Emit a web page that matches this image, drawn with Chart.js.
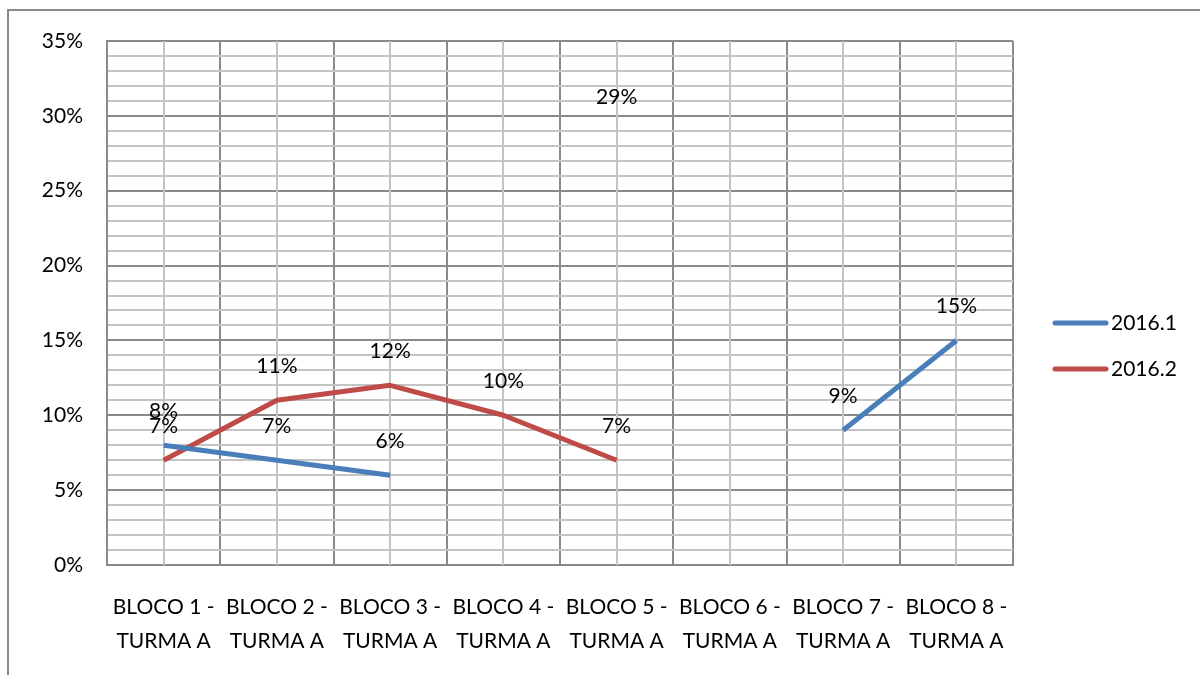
<!DOCTYPE html>
<html>
<head>
<meta charset="utf-8">
<script src="https://cdn.jsdelivr.net/npm/chart.js@4/dist/chart.umd.min.js"></script>
<style>
  html, body { margin: 0; padding: 0; background: #fff; }
  #wrap { position: absolute; left: 0; top: 0; width: 1200px; height: 675px; }
</style>
</head>
<body>
<div id="wrap"><canvas id="c" width="1200" height="675"></canvas></div>
<script>
// Categories (two-line labels) and series values, in percent
const categories = [
  ['BLOCO 1 -', 'TURMA A'],
  ['BLOCO 2 -', 'TURMA A'],
  ['BLOCO 3 -', 'TURMA A'],
  ['BLOCO 4 -', 'TURMA A'],
  ['BLOCO 5 -', 'TURMA A'],
  ['BLOCO 6 -', 'TURMA A'],
  ['BLOCO 7 -', 'TURMA A'],
  ['BLOCO 8 -', 'TURMA A']
];
const series2016_1 = [8, 7, 6, null, 29, null, 9, 15];
const series2016_2 = [7, 11, 12, 10, 7, null, null, null];
const seriesNames = ['2016.1', '2016.2'];
const seriesColors = ['#4a7ebb', '#be4b48'];
const yMin = 0, yMax = 35, yStep = 1, yLabelEvery = 5;

const FONT = 'Lato, "Open Sans", "Liberation Sans", sans-serif';
const FONT_SIZE = 21;
const MAJOR = '#8a8a8a';
const MINOR = '#c4c4c4';

// Outer frame of the chart object
const framePlugin = {
  id: 'frame',
  afterDraw(chart) {
    const ctx = chart.ctx;
    ctx.save();
    ctx.strokeStyle = '#8a8a8a';
    ctx.lineWidth = 2;
    ctx.beginPath();
    ctx.moveTo(8, 675);
    ctx.lineTo(8, 10);
    ctx.lineTo(1200, 10);
    ctx.stroke();
    ctx.restore();
  }
};

// Light vertical lines through each category centre
const centerLinesPlugin = {
  id: 'centerLines',
  beforeDatasetsDraw(chart) {
    const { ctx, chartArea, scales } = chart;
    ctx.save();
    ctx.strokeStyle = MINOR;
    ctx.lineWidth = 2;
    categories.forEach((_, i) => {
      const x = Math.round(scales.x.getPixelForValue(i));
      ctx.beginPath();
      ctx.moveTo(x, chartArea.top);
      ctx.lineTo(x, chartArea.bottom);
      ctx.stroke();
    });
    ctx.restore();
  }
};

// Value labels above each point
const valueLabelsPlugin = {
  id: 'valueLabels',
  afterDatasetsDraw(chart) {
    const ctx = chart.ctx;
    ctx.save();
    ctx.font = FONT_SIZE + 'px ' + FONT;
    ctx.fillStyle = '#000';
    ctx.textAlign = 'center';
    ctx.textBaseline = 'middle';
    chart.data.datasets.forEach((ds, di) => {
      const meta = chart.getDatasetMeta(di);
      ds.data.forEach((v, i) => {
        if (v === null) return;
        const el = meta.data[i];
        ctx.fillText(v + '%', el.x, el.y - 34);
      });
    });
    ctx.restore();
  }
};

// Legend on the right side
const sideLegendPlugin = {
  id: 'sideLegend',
  afterDraw(chart) {
    const ctx = chart.ctx;
    ctx.save();
    ctx.font = FONT_SIZE + 'px ' + FONT;
    ctx.textBaseline = 'middle';
    ctx.textAlign = 'left';
    chart.data.datasets.forEach((ds, i) => {
      const y = 323 + i * 46;
      ctx.strokeStyle = ds.borderColor;
      ctx.lineWidth = 5;
      ctx.lineCap = 'round';
      ctx.beginPath();
      ctx.moveTo(1055, y);
      ctx.lineTo(1106, y);
      ctx.stroke();
      ctx.fillStyle = '#000';
      ctx.fillText(ds.label, 1111, y);
    });
    ctx.restore();
  }
};

new Chart(document.getElementById('c'), {
  type: 'line',
  data: {
    labels: categories,
    datasets: [
      { label: seriesNames[0], data: series2016_1, borderColor: seriesColors[0], backgroundColor: seriesColors[0] },
      { label: seriesNames[1], data: series2016_2, borderColor: seriesColors[1], backgroundColor: seriesColors[1] }
    ].map(d => Object.assign(d, {
      borderWidth: 5, pointRadius: 0, pointHoverRadius: 0, tension: 0,
      spanGaps: false, borderCapStyle: 'butt', borderJoinStyle: 'round', fill: false
    }))
  },
  options: {
    responsive: false,
    animation: false,
    devicePixelRatio: 1,
    layout: { padding: { left: 0, right: 187, top: 41, bottom: 0 } },
    plugins: { legend: { display: false }, tooltip: { enabled: false } },
    scales: {
      x: {
        type: 'category',
        offset: true,
        grid: { offset: true, color: MAJOR, lineWidth: 2, drawTicks: false },
        border: { color: MAJOR, width: 2 },
        ticks: {
          color: '#000', maxRotation: 0, autoSkip: false, padding: 25,
          font: { family: FONT, size: FONT_SIZE, lineHeight: 1.62 }
        },
        afterFit(s) { s.height = 110; }
      },
      y: {
        min: yMin, max: yMax,
        grid: {
          color: c => (c.tick && c.tick.value % yLabelEvery === 0) ? MAJOR : MINOR,
          lineWidth: 2, drawTicks: false
        },
        border: { color: MAJOR, width: 2 },
        ticks: {
          stepSize: yStep, autoSkip: false, maxTicksLimit: 100, padding: 24,
          color: '#000', font: { family: FONT, size: FONT_SIZE },
          callback: v => (v % yLabelEvery === 0) ? v + '%' : ''
        },
        afterFit(s) { s.width = 107; }
      }
    }
  },
  plugins: [framePlugin, centerLinesPlugin, valueLabelsPlugin, sideLegendPlugin]
});
</script>
</body>
</html>
